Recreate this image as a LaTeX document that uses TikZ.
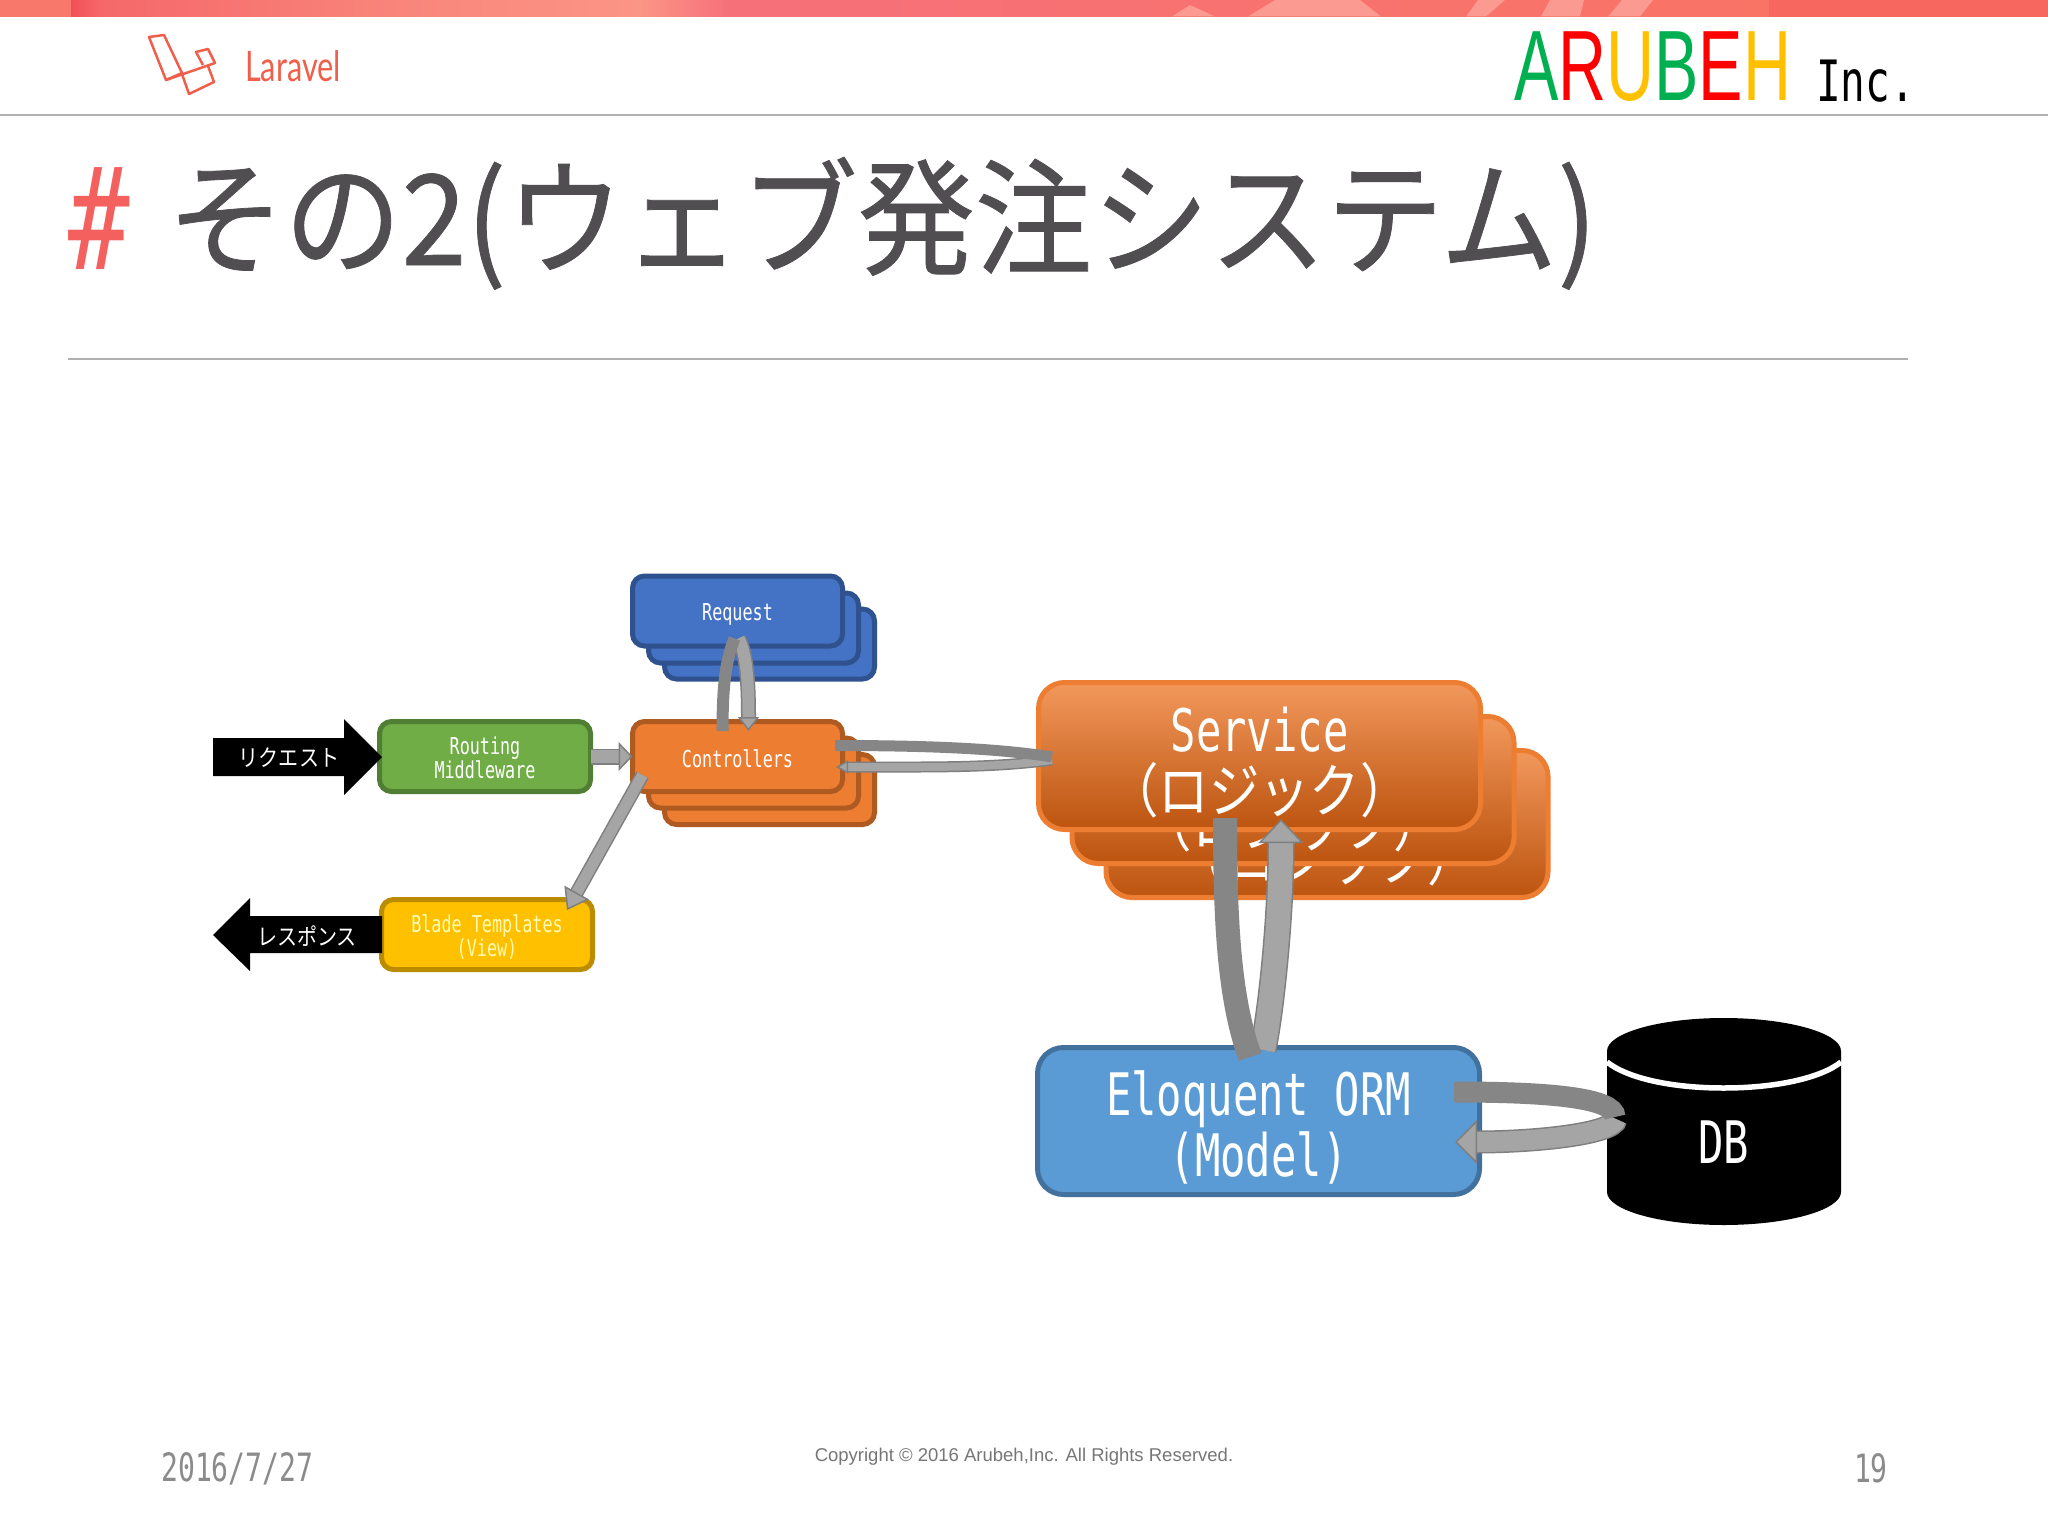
\documentclass[tikz,border=0pt]{standalone}
\usepackage{fontspec}
\usetikzlibrary{arrows.meta}
\setmainfont{Liberation Sans}
\newfontfamily\latinf[FakeStretch=0.72]{DejaVu Sans Mono}
\newfontfamily\jpf[FakeStretch=0.86]{Noto Sans CJK JP}
\newfontfamily\titlef[FakeStretch=0.93,FakeBold=0.6]{Noto Sans CJK JP}
\newfontfamily\logof[FakeStretch=0.665]{Liberation Sans}
\newfontfamily\laravelf[FakeStretch=0.73]{Lato}
\definecolor{hashred}{HTML}{F4605E}
\definecolor{titlegray}{HTML}{504E50}
\definecolor{rulegray}{HTML}{B0B0B0}
\definecolor{footgray}{HTML}{8B8B8B}
\definecolor{lred}{HTML}{EF5F4C}
\definecolor{arrowlight}{HTML}{A5A5A5}
\definecolor{arrowdark}{HTML}{868686}
\definecolor{arrowedge}{HTML}{7F7F7F}
\definecolor{blue1}{HTML}{4472C4}\definecolor{blue2}{HTML}{2F528F}
\definecolor{orange1}{HTML}{ED7D31}\definecolor{orange2}{HTML}{AE5A21}
\definecolor{green1}{HTML}{70AD47}\definecolor{green2}{HTML}{507E32}
\definecolor{yellow1}{HTML}{FFC000}\definecolor{yellow2}{HTML}{BC8C00}
\definecolor{ormfill}{HTML}{5B9BD5}\definecolor{ormedge}{HTML}{41719C}
\definecolor{svc1}{HTML}{F2985C}\definecolor{svc2}{HTML}{DC6A22}\definecolor{svc3}{HTML}{BC540F}
\definecolor{bcloud}{HTML}{FB9A90}
\definecolor{ba}{HTML}{F8796B}\definecolor{bb}{HTML}{F24F57}\definecolor{bc}{HTML}{F5686A}
\definecolor{bd}{HTML}{F9857B}\definecolor{be}{HTML}{FB9585}\definecolor{bf}{HTML}{F6707A}
\definecolor{bg}{HTML}{F97465}\definecolor{bh}{HTML}{F8675F}
\newcommand\nudged[3]{\raisebox{-#1}[\height][\depth]{\parbox{#2}{\centering\lineskiplimit=-100pt\relax #3}}}
\newcommand\bandpiece[4]{\shade[left color=#3,right color=#4] (#1,0) rectangle (#2,16.5);}
\tikzset{
  x=1pt,y=-1pt,
  boxbase/.style={rectangle,line width=5pt,outer sep=0pt,inner sep=0pt,text=white},
  smallbox/.style={boxbase,rounded corners=12pt,minimum width=210pt,minimum height=70pt,
    font=\latinf\fontsize{23.3}{24}\selectfont},
  bigbox/.style={boxbase,rounded corners=26pt,minimum width=442pt,minimum height=147pt,
    font=\latinf\fontsize{58.6}{61}\selectfont},
  bluebox/.style={smallbox,fill=blue1,draw=blue2},
  orangebox/.style={smallbox,fill=orange1,draw=orange2},
  servicebox/.style={bigbox,draw=orange1,top color=svc1,middle color=svc2,bottom color=svc3},
  darkflow/.style={draw=arrowdark,line width=#1},
  lightflow/.style n args={3}{draw=arrowlight,line width=#1,
    preaction={draw=arrowedge,line width=#1+3pt,arrows=-,shorten >=#2-1pt},
    -{Triangle[length=#2,width=#3,fill=arrowlight,color=arrowedge,line width=1.5pt]}},
  tagtext/.style={text=white,inner sep=0pt,font=\jpf\fontsize{23.3}{24}\selectfont},
  foot/.style={text=footgray,inner sep=0pt,font=\latinf\fontsize{39}{40}\selectfont},
  lgline/.style={draw=lred,line width=2.5pt,line join=round},
}
\begin{document}
\begin{tikzpicture}
\useasboundingbox (0,0) rectangle (2048,1536);
\fill[white] (0,0) rectangle (2048,1536);
% top band
\bandpiece{0}{72}{ba}{ba}
\bandpiece{71}{100}{bb}{bc}
\bandpiece{99}{400}{bc}{bd}
\bandpiece{399}{640}{bd}{be}
\bandpiece{639}{730}{be}{bf}
\bandpiece{729}{1770}{bf}{bg}
\bandpiece{1769}{2048}{bh}{bh}
\fill[bcloud] (1172,16.5) -- (1190,5) -- (1215,16.5) -- cycle;
\fill[bcloud] (1248,16.5) -- (1275,0) -- (1360,0) -- (1381,16.5) -- cycle;
\fill[bcloud] (1466,16.5) -- (1478,0) -- (1505,0) -- (1486,16.5) -- cycle;
\fill[bcloud] (1541,16.5) -- (1550,0) -- (1584,0) -- (1580,16.5) -- cycle;
\fill[bcloud] (1608,16.5) -- (1622,0) -- (1653,0) -- (1640,16.5) -- cycle;
% rules
\draw[rulegray,line width=1.5pt] (0,115) -- (2048,115);
\draw[rulegray,line width=1.5pt] (68,359) -- (1908,359);
% laravel logo
\draw[lgline] (149,37) -- (164,35) -- (182,73) -- (166,80) -- cycle;
\draw[lgline] (166,80) -- (215,63) -- (208,49) -- (196,52) -- (203,65);
\draw[lgline] (182,74) -- (189,94) -- (214,82) -- (208,66);
\node[anchor=base west,inner sep=0pt,text=lred,font=\laravelf\fontsize{42}{44}\selectfont] (laravel) at (245,82) {Laravel};
% company
\node[anchor=base west,inner sep=0pt,font=\logof\fontsize{100}{104}\selectfont] (arubeh) at (1514,101)
  {\textcolor[HTML]{00B050}{A}\textcolor[HTML]{FF0000}{R}\textcolor[HTML]{FFC000}{U}\textcolor[HTML]{00B050}{B}\textcolor[HTML]{FF0000}{E}\textcolor[HTML]{FFC000}{H}};
\node[anchor=base west,inner sep=0pt,font=\latinf\fontsize{57}{60}\selectfont] (inc) at (1816,102) {Inc.};
% title
\node[anchor=base west,inner sep=0pt,text=hashred,font=\latinf\fontsize{142}{144}\selectfont] (hash) at (68,269) {\#};
\node[anchor=base west,inner sep=0pt,text=titlegray,font=\titlef\fontsize{126}{130}\selectfont] (title) at (167,265) {その2(ウェブ発注システム)};
% request stack
\node[bluebox] (req3) at (769.5,644) {};
\node[bluebox] (req2) at (753.5,628) {};
\node[bluebox] (req) at (737.5,611) {\nudged{3pt}{200pt}{Request}};
% controller stack
\node[orangebox] (ctrl3) at (769.5,789.5) {};
\node[orangebox] (ctrl2) at (753.5,773) {};
\node[orangebox] (ctrl) at (737.5,756.5) {\nudged{2.5pt}{200pt}{Controllers}};
\node[smallbox,minimum width=211pt,fill=green1,draw=green2] (route) at (485,756.5) {\nudged{1.5pt}{200pt}{Routing\\Middleware}};
\node[smallbox,minimum width=211pt,fill=yellow1,draw=yellow2,text=yellow!30!white] (blade) at (487,934.5) {\nudged{3pt}{200pt}{Blade Templates\\(View)}};
% service stack
\node[servicebox] (svc3) at (1327,824) {\nudged{6.5pt}{420pt}{\phantom{Service}\\{\jpf （ロジック）}}};
\node[servicebox] (svc2) at (1293,790) {\nudged{6.5pt}{420pt}{\phantom{Service}\\{\jpf （ロジック）}}};
\node[servicebox] (svc) at (1259.5,756) {\nudged{6.5pt}{420pt}{Service\\{\jpf （ロジック）}}};
\node[bigbox,fill=ormfill,draw=ormedge] (orm) at (1258.5,1121) {\nudged{6.5pt}{420pt}{Eloquent ORM\\(Model)}};
% database
\fill[black] (1607,1051) .. controls (1607,1033) and (1660,1018) .. (1723.5,1018) .. controls (1788,1018) and (1841,1033) .. (1841,1051) -- (1841,1192) .. controls (1841,1210) and (1788,1225) .. (1723.5,1225) .. controls (1660,1225) and (1607,1210) .. (1607,1192) -- cycle;
\draw[white,line width=5.5pt] (1607,1062) .. controls (1627,1078) and (1671,1088) .. (1723.5,1088) .. controls (1776,1088) and (1821,1078) .. (1841,1062);
\node[rectangle,inner sep=0pt,outer sep=0pt,minimum width=233pt,minimum height=100pt,text=white,font=\latinf\fontsize{58.6}{61}\selectfont] (db) at (1723.5,1142) {DB};
% black arrows
\fill[black] (213,738) -- (344,738) -- (344,719) -- (382,757) -- (344,795) -- (344,776) -- (213,776) -- cycle;
\node[tagtext] (reqlabel) at (289,758) {リクエスト};
\fill[black] (382,916) -- (250,916) -- (250,898) -- (213,935) -- (250,971) -- (250,953) -- (382,953) -- cycle;
\node[tagtext] (reslabel) at (307,936) {レスポンス};
% connectors
\draw[lightflow={13pt}{14pt}{29pt}] (route.east) -- (ctrl.west);
\draw[lightflow={11pt}{20pt}{28pt}] ([xshift=10pt,yshift=16.5pt]ctrl.south west) -- ([xshift=-25.5pt,yshift=-10.5pt]blade.north east);
% request loop
\draw[lightflow={12pt}{14pt}{21pt}] ([xshift=1pt,yshift=7.5pt]req.south) .. controls +(8,15) and +(0,-50) .. ([xshift=11pt,yshift=-9.5pt]ctrl.north);
\draw[darkflow=12pt] ([xshift=-15pt,yshift=-9.5pt]ctrl.north) .. controls +(0,-50) and +(-8,20) .. ([xshift=-3pt,yshift=7.5pt]req.south);
% service link
\draw[lightflow={8pt}{12pt}{13pt}] ([xshift=13.5pt,yshift=-4pt]svc.west) .. controls +(-60,8) and +(100,0) .. ([xshift=-6.5pt,yshift=-10.5pt]ctrl.east);
\draw[darkflow=11pt] ([xshift=-7.5pt,yshift=11pt]ctrl.east) .. controls +(100,0) and +(-50,-8) .. ([xshift=13.5pt,yshift=-1pt]svc.west);
% service - eloquent loop
\draw[lightflow={24pt}{24pt}{45pt}] ([xshift=4.5pt,yshift=-2.5pt]orm.north) .. controls +(8,-40) and +(0,100) .. ([xshift=21.5pt,yshift=10.5pt]svc.south);
\draw[darkflow=24pt] ([xshift=-34.5pt,yshift=11.5pt]svc.south) .. controls +(0,112) and +(-20,-57) .. ([xshift=-8.5pt,yshift=-9.5pt]orm.north);
% eloquent - db
\draw[lightflow={20pt}{22pt}{44pt}] ([xshift=9pt,yshift=23pt]db.west) .. controls +(-2,15) and +(80,0) .. ([xshift=-24.5pt,yshift=-21pt]orm.east);
\draw[darkflow=21pt] ([xshift=-25.5pt,yshift=29pt]orm.east) .. controls +(90,0) and +(0,-20) .. ([xshift=8pt,yshift=25pt]db.west);
% footer
\node[foot,anchor=west] (date) at (161,1468.5) {2016/7/27};
\node[foot,anchor=east] (page) at (1888,1468) {19};
\node[anchor=center,inner sep=0pt,text=footgray!85!black,font=\fontsize{18.5}{20}\selectfont] (copy) at (1024,1457) {Copyright © 2016 Arubeh,Inc. All Rights Reserved.};
\end{tikzpicture}
\end{document}
